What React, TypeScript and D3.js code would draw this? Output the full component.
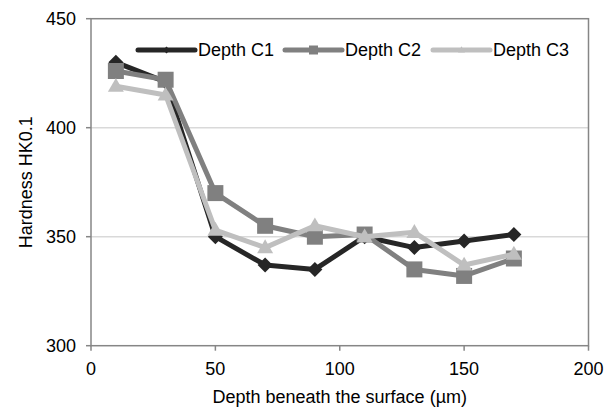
import React from "react";
import * as d3 from "d3";

const depths = [10, 30, 50, 70, 90, 110, 130, 150, 170];
const c1 = [430, 421, 350, 337, 335, 350, 345, 348, 351];
const c2 = [426, 422, 370, 355, 350, 351, 335, 332, 340];
const c3 = [419, 415, 353, 345, 355, 350, 352, 337, 342];
const xTicks = [0, 50, 100, 150, 200];
const yTicks = [300, 350, 400, 450];
const seriesNames = ["Depth C1", "Depth C2", "Depth C3"];

const W = 616, H = 407;
const M = { left: 91, right: 27.5, top: 18.7, bottom: 61.3 };

function markerPath(m: string, r: number) {
  const p = d3.path();
  if (m === "diamond") {
    p.moveTo(0, -r); p.lineTo(r, 0); p.lineTo(0, r); p.lineTo(-r, 0); p.closePath();
  } else if (m === "square") {
    p.rect(-r, -r, 2 * r, 2 * r);
  } else {
    const h = r * 1.732;
    p.moveTo(0, -h * 0.6); p.lineTo(r, h * 0.4); p.lineTo(-r, h * 0.4); p.closePath();
  }
  return p.toString();
}

export default function App() {
  const x = d3.scaleLinear().domain([0, 200]).range([M.left, W - M.right]);
  const y = d3.scaleLinear().domain([300, 450]).range([H - M.bottom, M.top]);
  const line = d3.line<number>().x((_, i) => x(depths[i])).y((d) => y(d));
  const series = [
    { name: seriesNames[0], vals: c1, color: "#262626", marker: "diamond", r: 7.5, lr: 3.5 },
    { name: seriesNames[1], vals: c2, color: "#808080", marker: "square", r: 8, lr: 4.5 },
    { name: seriesNames[2], vals: c3, color: "#bfbfbf", marker: "triangle", r: 8, lr: 3.5 },
  ];
  const font = "'Liberation Sans', Arial, sans-serif";
  const legendX = [138, 285, 433];
  const legendLen = 57;
  const legendY = 50;
  return (
    <svg width={W} height={H} style={{ position: "absolute", left: 0, top: 0 }} fontFamily={font}>
      <rect width={W} height={H} fill="#fff" />
      {yTicks.slice(1, -1).map((t) => (
        <line key={t} x1={x(0)} x2={x(200)} y1={y(t)} y2={y(t)} stroke="#d9d9d9" strokeWidth={1.5} />
      ))}
      <rect x={x(0)} y={y(450)} width={x(200) - x(0)} height={y(300) - y(450)} fill="none" stroke="#868686" strokeWidth={1.5} />
      {yTicks.map((t) => (
        <g key={t}>
          <line x1={x(0) - 5} x2={x(0)} y1={y(t)} y2={y(t)} stroke="#868686" strokeWidth={1.5} />
          <text x={x(0) - 15} y={y(t)} dy="0.36em" textAnchor="end" fontSize={18} fill="#000">{t}</text>
        </g>
      ))}
      {xTicks.map((t) => (
        <g key={t}>
          <line x1={x(t)} x2={x(t)} y1={y(300)} y2={y(300) + 5} stroke="#868686" strokeWidth={1.5} />
          <text x={x(t)} y={y(300) + 29} textAnchor="middle" fontSize={18} fill="#000">{t}</text>
        </g>
      ))}
      <text x={(x(0) + x(200)) / 2} y={403} textAnchor="middle" fontSize={18} fill="#000">Depth beneath the surface (µm)</text>
      <text transform={`translate(32,${(y(300) + y(450)) / 2}) rotate(-90)`} textAnchor="middle" fontSize={18} fill="#000">Hardness HK0.1</text>
      {series.map((s) => (
        <g key={s.name}>
          <path d={line(s.vals) as string} fill="none" stroke={s.color} strokeWidth={5} strokeLinejoin="round" />
          {s.vals.map((v, i) => (
            <path key={i} d={markerPath(s.marker, s.r)} transform={`translate(${x(depths[i])},${y(v)})`} fill={s.color} />
          ))}
        </g>
      ))}
      {series.map((s, k) => (
        <g key={"lg" + s.name}>
          <line x1={legendX[k]} x2={legendX[k] + legendLen} y1={legendY} y2={legendY} stroke={s.color} strokeWidth={5} strokeLinecap="round" />
          <path d={markerPath(s.marker, s.lr)} transform={`translate(${legendX[k] + legendLen / 2},${legendY})`} fill={s.color} />
          <text x={legendX[k] + legendLen + 3} y={legendY} dy="0.36em" fontSize={18} fill="#000">{s.name}</text>
        </g>
      ))}
    </svg>
  );
}
